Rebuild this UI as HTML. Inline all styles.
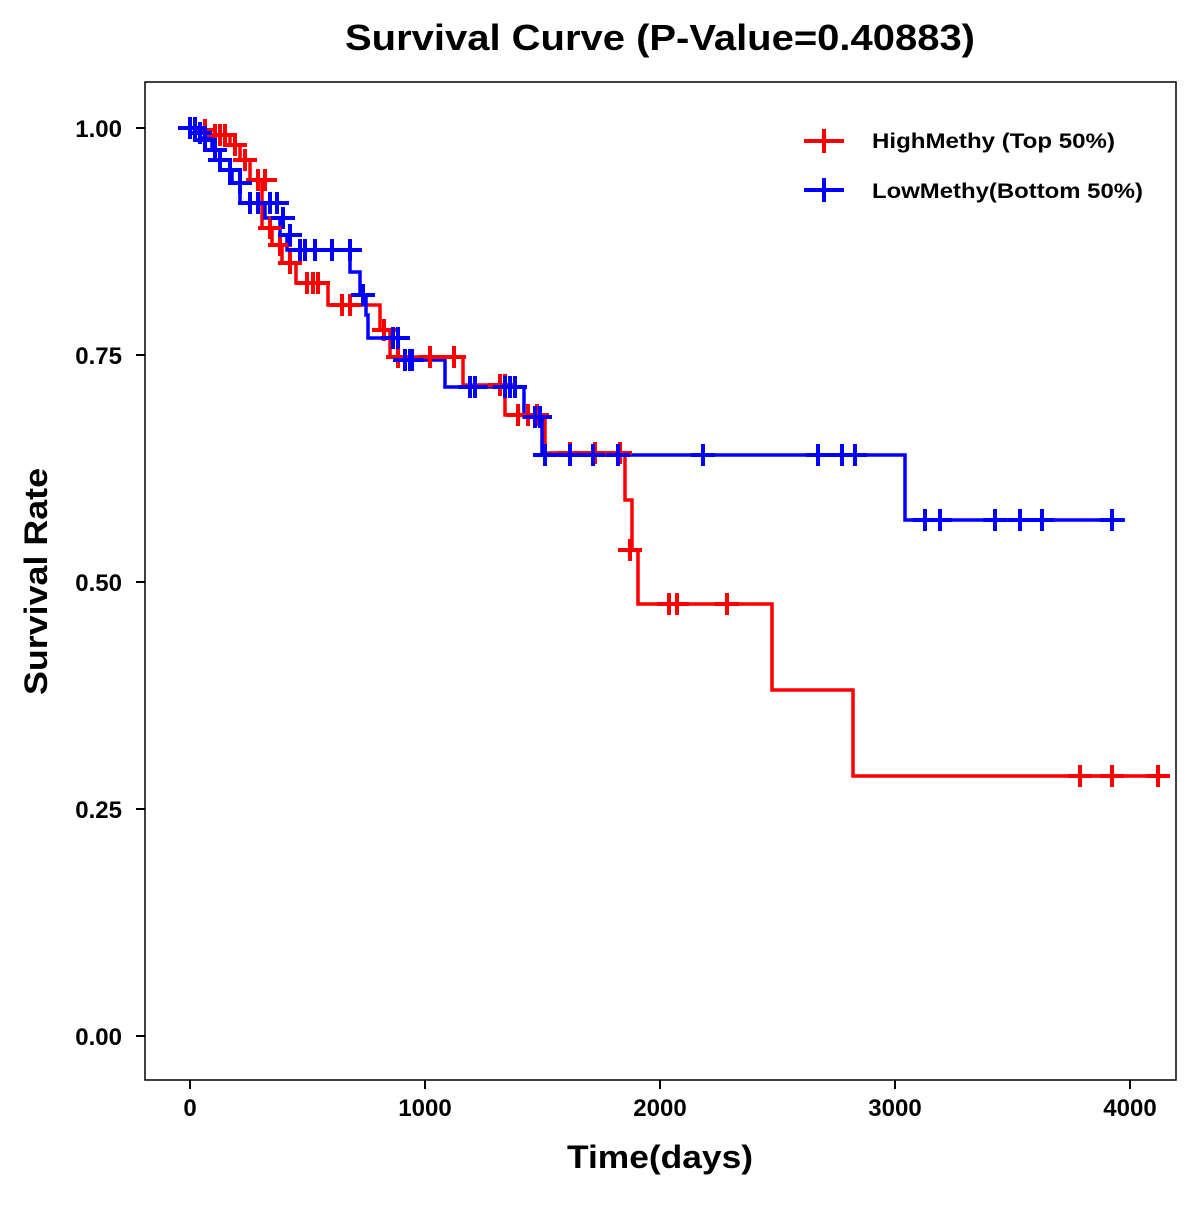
<!DOCTYPE html>
<html><head><meta charset="utf-8"><style>
html,body{margin:0;padding:0;background:#fff;}
text{font-family:"Liberation Sans",Arial,sans-serif;font-weight:bold;}
</style></head><body>
<svg width="1200" height="1200" viewBox="0 0 1200 1200" xmlns="http://www.w3.org/2000/svg">
<rect width="1200" height="1200" fill="#fff"/>
<text x="345" y="50" font-size="36" textLength="630" lengthAdjust="spacingAndGlyphs">Survival Curve (P-Value=0.40883)</text>
<rect x="145" y="82" width="1031" height="998" fill="none" stroke="#000" stroke-width="1.5"/>
<g stroke="#000" stroke-width="2">
<line x1="145" y1="128" x2="136" y2="128"/><line x1="145" y1="355" x2="136" y2="355"/><line x1="145" y1="582" x2="136" y2="582"/><line x1="145" y1="809" x2="136" y2="809"/><line x1="145" y1="1036" x2="136" y2="1036"/>
<line x1="190" y1="1080" x2="190" y2="1089"/><line x1="425" y1="1080" x2="425" y2="1089"/><line x1="660" y1="1080" x2="660" y2="1089"/><line x1="895" y1="1080" x2="895" y2="1089"/><line x1="1130" y1="1080" x2="1130" y2="1089"/>
</g>
<g font-size="24" text-anchor="end">
<text x="122" y="137">1.00</text><text x="122" y="364">0.75</text><text x="122" y="591">0.50</text><text x="122" y="818">0.25</text><text x="122" y="1045">0.00</text>
</g>
<g font-size="24" text-anchor="middle">
<text x="190" y="1116">0</text><text x="425" y="1116">1000</text><text x="660" y="1116">2000</text><text x="895" y="1116">3000</text><text x="1130" y="1116">4000</text>
</g>
<text x="567" y="1168" font-size="32" textLength="186" lengthAdjust="spacingAndGlyphs">Time(days)</text>
<text transform="translate(47,695) rotate(-90)" font-size="32" textLength="227" lengthAdjust="spacingAndGlyphs">Survival Rate</text>

<g fill="none" stroke-width="3.5">
<polyline stroke="#ff0000" points="190,128 205,128 205,135 230,135 230,145 240,145 240,160 250,160 250,180 262,180 262,228 272,228 272,245 282,245 282,263 296,263 296,283 328,283 328,305 380,305 380,330 390,330 390,357 463,357 463,385 505,385 505,415 545,415 545,453 625,453 625,500 632,500 632,550 638,550 638,604 772,604 772,690 853,690 853,776 1170,776"/>
<polyline stroke="#0000ff" points="180,128 200,128 200,138 212,138 212,150 220,150 220,170 232,170 232,183 240,183 240,203 265,203 265,218 280,218 280,235 287,235 287,250 350,250 350,272 360,272 360,295 366,295 366,315 368,315 368,338 398,338 398,360 445,360 445,387 524,387 524,417 542,417 542,455 905,455 905,520 1125,520"/>
</g>
<g stroke="#ff0000" stroke-width="4">
<path d="M1068,776h24M1080,765v22 M1100,776h24M1112,765v22 M1146,776h24M1158,765v22 M657,604h24M669,593v22 M665,604h24M677,593v22 M715,604h24M727,593v22 M618,550h24M630,539v22 M558,453h24M570,442v22 M583,453h24M595,442v22 M608,453h24M620,442v22 M506,415h24M518,404v22 M516,415h24M528,404v22 M525,415h24M537,404v22 M488,385h24M500,374v22 M493,385h24M505,374v22 M418,357h24M430,346v22 M442,357h24M454,346v22 M386,357h24M398,346v22 M372,330h24M384,319v22 M330,305h24M342,294v22 M338,305h24M350,294v22 M295,283h24M307,272v22 M301,283h24M313,272v22 M306,283h24M318,272v22 M278,263h24M290,252v22 M268,245h24M280,234v22 M258,228h24M270,217v22 M246,180h24M258,169v22 M253,180h24M265,169v22 M233,160h24M245,149v22 M223,145h24M235,134v22 M208,135h24M220,124v22 M203,135h24M215,124v22 M213,135h24M225,124v22 M193,130h24M205,119v22"/>
</g>
<g stroke="#0000ff" stroke-width="4">
<path d="M913,520h24M925,509v22 M928,520h24M940,509v22 M983,520h24M995,509v22 M1008,520h24M1020,509v22 M1030,520h24M1042,509v22 M1100,520h24M1112,509v22 M533,455h24M545,444v22 M558,455h24M570,444v22 M581,455h24M593,444v22 M606,455h24M618,444v22 M691,455h24M703,444v22 M806,455h24M818,444v22 M830,455h24M842,444v22 M843,455h24M855,444v22 M528,417h24M540,406v22 M523,417h24M535,406v22 M458,387h24M470,376v22 M463,387h24M475,376v22 M498,387h24M510,376v22 M503,387h24M515,376v22 M493,387h24M505,376v22 M393,360h24M405,349v22 M398,360h24M410,349v22 M400,360h24M412,349v22 M381,338h24M393,327v22 M386,338h24M398,327v22 M351,295h24M363,284v22 M338,250h24M350,239v22 M303,250h24M315,239v22 M320,250h24M332,239v22 M293,250h24M305,239v22 M288,250h24M300,239v22 M178,128h24M190,117v22 M183,128h24M195,117v22 M188,133h24M200,122v22 M193,140h24M205,129v22 M203,150h24M215,139v22 M208,160h24M220,149v22 M218,170h24M230,159v22 M228,183h24M240,172v22 M238,203h24M250,192v22 M246,203h24M258,192v22 M258,203h24M270,192v22 M265,203h24M277,192v22 M271,218h24M283,207v22 M278,235h24M290,224v22"/>
</g>
<g stroke-width="4">
<line x1="804" y1="141" x2="844" y2="141" stroke="#ff0000"/><line x1="824" y1="129" x2="824" y2="153" stroke="#ff0000"/>
<line x1="804" y1="190" x2="844" y2="190" stroke="#0000ff"/><line x1="824" y1="178" x2="824" y2="202" stroke="#0000ff"/>
</g>
<text x="872" y="148" font-size="21" textLength="243" lengthAdjust="spacingAndGlyphs">HighMethy (Top 50%)</text>
<text x="872" y="198" font-size="21" textLength="271" lengthAdjust="spacingAndGlyphs">LowMethy(Bottom 50%)</text>
</svg>
</body></html>
